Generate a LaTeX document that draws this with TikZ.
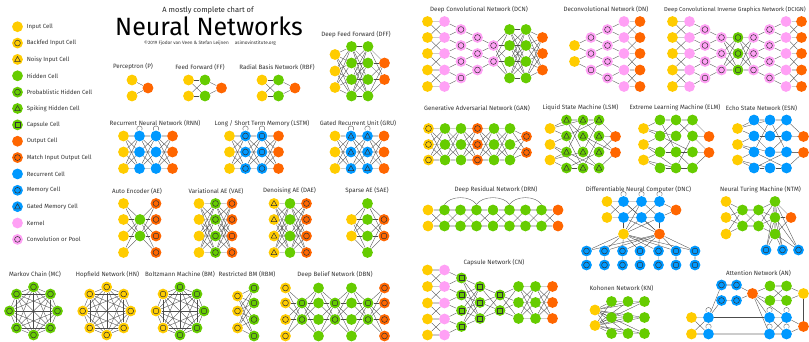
\documentclass[tikz,border=0pt]{standalone}
\usepackage{fontspec}
\setmainfont{Fira Sans}
\newfontfamily\thinfont{Fira Sans}
\usetikzlibrary{positioning, backgrounds}
\definecolor{CellYellow}{RGB}{255,204,0}
\definecolor{CellGreen}{RGB}{102,204,0}
\definecolor{CellOrange}{RGB}{255,102,0}
\definecolor{CellBlue}{RGB}{0,153,255}
\definecolor{CellPink}{RGB}{255,160,245}

% a column of cells: name, style, x, list of y
\newcommand\cells[4]{%
  \foreach \yy [count=\k] in {#4}{\node[#2] (#1-\k) at (#3,\yy) {};}}
% a row of cells: name, style, y, list of x
\newcommand\cellrow[4]{%
  \foreach \xx [count=\k] in {#4}{\node[#2] (#1-\k) at (\xx,#3) {};}}
\newcommand\fullconn[4]{%
  \begin{pgfonlayer}{background}
  \foreach \i in {1,...,#2}{\foreach \j in {1,...,#4}{\draw[conn] (#1-\i) -- (#3-\j);}}
  \end{pgfonlayer}}
\newcommand\rowconn[3]{%
  \begin{pgfonlayer}{background}
  \foreach \i in {1,...,#3}{\draw[rowline] (#1-\i) -- (#2-\i);}
  \end{pgfonlayer}}
\newcommand\meshconn[3]{%
  \rowconn{#1}{#2}{#3}%
  \begin{pgfonlayer}{background}
  \foreach \i in {1,...,#3}{\foreach \j in {1,...,#3}{%
    \ifnum\i=\j\else\draw[conn] (#1-\i) -- (#2-\j);\fi}}
  \end{pgfonlayer}}
\newcommand\nearconn[3]{%
  \rowconn{#1}{#2}{#3}%
  \begin{pgfonlayer}{background}
  \foreach \i in {2,...,#3}{\pgfmathtruncatemacro\ip{\i-1}%
    \draw[conn] (#1-\ip) -- (#2-\i); \draw[conn] (#1-\i) -- (#2-\ip);}
  \end{pgfonlayer}}
\newcommand\convconn[3]{%
  \begin{pgfonlayer}{background}
  \foreach \j in {1,...,#3}{\pgfmathtruncatemacro\jp{\j+1}%
    \draw[conn] (#1-\j) -- (#2-\j); \draw[conn] (#1-\jp) -- (#2-\j);}
  \end{pgfonlayer}}
\newcommand\deconvconn[3]{%
  \begin{pgfonlayer}{background}
  \foreach \j in {1,...,#3}{\pgfmathtruncatemacro\jp{\j+1}%
    \draw[conn] (#1-\j) -- (#2-\j); \draw[conn] (#1-\j) -- (#2-\jp);}
  \end{pgfonlayer}}
\newcommand\clique[2]{%
  \begin{pgfonlayer}{background}
  \foreach \i in {1,...,#2}{\foreach \j in {1,...,#2}{%
    \ifnum\i<\j\draw[conn] (#1-\i) -- (#1-\j);\fi}}
  \end{pgfonlayer}}
\newcommand\linkset[3][conn]{%
  \begin{pgfonlayer}{background}
  \foreach \p/\q in {#3}{\draw[#1] (#2-\p) -- (#2-\q);}
  \end{pgfonlayer}}
\newcommand\selfloop[1]{%
  \draw[conn] ([xshift=-2.2pt]#1.north) .. controls +(-2.5,-6) and +(2.5,-6) .. ([xshift=2.2pt]#1.north);}

\begin{document}
\begin{tikzpicture}[
    x=1pt, y=-1pt,
    cell/.style={circle,minimum size=10.8pt,inner sep=0pt},
    markline/.style={draw=black!80,line width=0.5pt},
    ring/.style={path picture={\draw[markline] (path picture bounding box.center) circle (2.9pt);}},
    tri/.style={path picture={\draw[markline,line join=round]
        ([yshift=3pt]path picture bounding box.center) -- ++(2.9pt,-5.2pt) -- ++(-5.8pt,0pt) -- cycle;}},
    sq/.style={path picture={\draw[markline]
        ([shift={(-2.6pt,-2.6pt)}]path picture bounding box.center) rectangle ++(5.2pt,5.2pt);}},
    inputcell/.style={cell,fill=CellYellow},
    backfed/.style={inputcell,ring},
    noisy/.style={inputcell,tri},
    hidden/.style={cell,fill=CellGreen},
    probhidden/.style={hidden,ring},
    spiking/.style={hidden,tri},
    capsule/.style={hidden,sq},
    outputcell/.style={cell,fill=CellOrange},
    matchout/.style={outputcell,ring},
    recurrent/.style={cell,fill=CellBlue},
    memory/.style={recurrent,ring},
    gatedmem/.style={recurrent,tri},
    kernel/.style={cell,fill=CellPink},
    convpool/.style={kernel,ring},
    conn/.style={draw=black!70,line width=0.35pt},
    rowline/.style={draw=black!20,line width=1.3pt},
    netlabel/.style={font=\fontsize{6.2}{7}\selectfont,text=black!80,inner sep=0pt},
    keylabel/.style={font=\fontsize{6}{7}\selectfont,text=black!80,inner sep=0pt}
  ]
  \begin{pgfonlayer}{background}
    \fill[white] (0,0) rectangle (809,341);
  \end{pgfonlayer}
  \useasboundingbox (0,0) rectangle (809,341);

  % title and legend
  \node[font=\fontsize{7.5}{8}\selectfont,text=black!85,inner sep=0pt] (subtitle) at (208,10) {A mostly complete chart of};
  \node[font=\thinfont\fontsize{25}{26}\selectfont,inner sep=0pt] (title) at (209,26) {Neural Networks};
  \node[font=\fontsize{4.7}{5}\selectfont,text=black!80,inner sep=0pt] (credit) at (210,43.5)
    {\textcopyright2019 Fjodor van Veen \& Stefan Leijnen\hspace{6pt}asimovinstitute.org};
  \foreach \st/\txt [count=\k] in {inputcell/Input Cell, backfed/Backfed Input Cell,
      noisy/Noisy Input Cell, hidden/Hidden Cell, probhidden/Probablistic Hidden Cell,
      spiking/Spiking Hidden Cell, capsule/Capsule Cell, outputcell/Output Cell,
      matchout/Match Input Output Cell, recurrent/Recurrent Cell, memory/Memory Cell,
      gatedmem/Gated Memory Cell, kernel/Kernel, convpool/Convolution or Pool}{
    \node[\st] (key-\k) at (17.5,{26.7+16.36*(\k-1)}) {};
    \node[keylabel,right=3.5pt of key-\k] (keytext-\k) {\txt};
  }

  % perceptron, feed forward, radial basis
  \node[netlabel] (p-lbl) at (133,67) {Perceptron (P)};
  \cells{p-a}{inputcell}{132}{80,96}
  \cells{p-b}{outputcell}{148}{88}
  \fullconn{p-a}{2}{p-b}{1}
  \node[netlabel] (ff-lbl) at (200,67) {Feed Forward (FF)};
  \cells{ff-a}{inputcell}{188.5}{80,96}
  \cells{ff-b}{hidden}{205}{80,96}
  \cells{ff-c}{outputcell}{221.5}{88}
  \fullconn{ff-a}{2}{ff-b}{2}
  \fullconn{ff-b}{2}{ff-c}{1}
  \node[netlabel] (rbf-lbl) at (277,67) {Radial Basis Network (RBF)};
  \cells{rbf-a}{inputcell}{262}{80,96}
  \cells{rbf-b}{hidden}{278.5}{80,96}
  \cells{rbf-c}{outputcell}{295}{88}
  \fullconn{rbf-a}{2}{rbf-b}{2}
  \fullconn{rbf-b}{2}{rbf-c}{1}

  % deep feed forward
  \node[netlabel] (dff-lbl) at (356,34.5) {Deep Feed Forward (DFF)};
  \cells{dff-a}{inputcell}{335}{54.5,71,87.5}
  \cells{dff-b}{hidden}{351.5}{46.5,63,79.5,96}
  \cells{dff-c}{hidden}{368}{46.5,63,79.5,96}
  \cells{dff-d}{outputcell}{384.5}{63,79.5}
  \fullconn{dff-a}{3}{dff-b}{4}
  \fullconn{dff-b}{4}{dff-c}{4}
  \fullconn{dff-c}{4}{dff-d}{2}

  % recurrent nets
  \node[netlabel] (rnn-lbl) at (155,123.5) {Recurrent Neural Network (RNN)};
  \node[netlabel] (lstm-lbl) at (262,123.5) {Long / Short Term Memory (LSTM)};
  \node[netlabel] (gru-lbl) at (358,123.5) {Gated Recurrent Unit (GRU)};
  \foreach \nm/\cx/\st in {rnn/123.5/recurrent, lstm/229.5/memory, gru/335/gatedmem}{
    \cells{\nm-a}{inputcell}{\cx}{136,152,168.5}
    \cells{\nm-b}{\st}{\cx+16}{136,152,168.5}
    \cells{\nm-c}{\st}{\cx+32.5}{136,152,168.5}
    \cells{\nm-d}{outputcell}{\cx+49}{136,152,168.5}
    \meshconn{\nm-a}{\nm-b}{3}
    \meshconn{\nm-b}{\nm-c}{3}
    \meshconn{\nm-c}{\nm-d}{3}
    \selfloop{\nm-b-1}
    \selfloop{\nm-c-1}
  }

  % auto encoders
  \node[netlabel] (ae-lbl) at (137,191) {Auto Encoder (AE)};
  \cells{ae-a}{inputcell}{123.5}{203.5,219.5,236,252.5}
  \cells{ae-b}{hidden}{140}{219.5,236}
  \cells{ae-c}{matchout}{156}{203.5,219.5,236,252.5}
  \fullconn{ae-a}{4}{ae-b}{2}
  \fullconn{ae-b}{2}{ae-c}{4}
  \node[netlabel] (vae-lbl) at (216,191) {Variational AE (VAE)};
  \cells{vae-a}{inputcell}{199}{203.5,219.5,236,252.5}
  \cells{vae-b}{probhidden}{215.5}{203.5,219.5,236,252.5}
  \cells{vae-c}{matchout}{232}{203.5,219.5,236,252.5}
  \meshconn{vae-a}{vae-b}{4}
  \meshconn{vae-b}{vae-c}{4}
  \node[netlabel] (dae-lbl) at (289.5,191) {Denoising AE (DAE)};
  \cells{dae-a}{noisy}{274}{203.5,219.5,236,252.5}
  \cells{dae-b}{hidden}{290}{203.5,219.5,236,252.5}
  \cells{dae-c}{matchout}{306.5}{203.5,219.5,236,252.5}
  \meshconn{dae-a}{dae-b}{4}
  \meshconn{dae-b}{dae-c}{4}
  \node[netlabel] (sae-lbl) at (367,191) {Sparse AE (SAE)};
  \cells{sae-a}{inputcell}{351.5}{219.5,236}
  \cells{sae-b}{hidden}{367.5}{203.5,219.5,236,252.5}
  \cells{sae-c}{matchout}{384}{219.5,236}
  \fullconn{sae-a}{2}{sae-b}{4}
  \fullconn{sae-b}{4}{sae-c}{2}

  % fully connected rings
  \node[netlabel] (mc-lbl) at (35,274.5) {Markov Chain (MC)};
  \node[netlabel] (hn-lbl) at (107.5,274.5) {Hopfield Network (HN)};
  \node[netlabel] (bm-lbl) at (180,274.5) {Boltzmann Machine (BM)};
  \foreach \k in {1,...,8}{
    \node[probhidden] (mc-\k) at ({33.5+24*cos(45*\k)},{311+24*sin(45*\k)}) {};
    \node[backfed] (hn-\k) at ({106.7+24*cos(45*\k)},{311+24*sin(45*\k)}) {};
  }
  \foreach \k/\st in {1/probhidden,2/probhidden,3/backfed,4/backfed,5/backfed,6/probhidden,7/probhidden,8/probhidden}{
    \node[\st] (bm-\k) at ({180+24*cos(45*\k)},{311+24*sin(45*\k)}) {};
  }
  \linkset[rowline]{mc}{2/6}
  \clique{mc}{8}
  \clique{hn}{8}
  \clique{bm}{8}

  % restricted BM and deep belief
  \node[netlabel] (rbm-lbl) at (247,274.5) {Restricted BM (RBM)};
  \cells{rbm-a}{backfed}{237.5}{296,311,328}
  \cells{rbm-b}{probhidden}{254}{288,303,319.5,336}
  \fullconn{rbm-a}{3}{rbm-b}{4}
  \node[netlabel] (dbn-lbl) at (335,274.5) {Deep Belief Network (DBN)};
  \cells{dbn-a}{backfed}{285.5}{288,303,319.5,336}
  \cells{dbn-b}{probhidden}{302}{303,319.5}
  \cells{dbn-c}{hidden}{318.5}{288,303,319.5,336}
  \cells{dbn-d}{probhidden}{335}{303,319.5}
  \cells{dbn-e}{hidden}{351.5}{288,303,319.5,336}
  \cells{dbn-f}{probhidden}{368}{303,319.5}
  \cells{dbn-g}{matchout}{384.5}{288,303,319.5,336}
  \fullconn{dbn-a}{4}{dbn-b}{2}
  \fullconn{dbn-b}{2}{dbn-c}{4}
  \fullconn{dbn-c}{4}{dbn-d}{2}
  \fullconn{dbn-d}{2}{dbn-e}{4}
  \fullconn{dbn-e}{4}{dbn-f}{2}
  \fullconn{dbn-f}{2}{dbn-g}{4}

  % convolutional nets
  \node[netlabel] (dcn-lbl) at (479,9.5) {Deep Convolutional Network (DCN)};
  \cells{dcn-a}{inputcell}{427.5}{21.5,37.5,53.5,70,86.5}
  \cells{dcn-b}{kernel}{444.5}{21.5,37.5,53.5,70,86.5}
  \cells{dcn-c}{convpool}{461}{29.5,45.5,61.5,78}
  \cells{dcn-d}{convpool}{477.5}{37.5,53.5,70}
  \cells{dcn-e}{convpool}{493.5}{45.5,61.5}
  \cells{dcn-f}{hidden}{509.5}{29.5,45.5,61.5,78}
  \cells{dcn-g}{hidden}{526}{29.5,45.5,61.5,78}
  \cells{dcn-h}{outputcell}{542.5}{37.5,53.5,70}
  \nearconn{dcn-a}{dcn-b}{5}
  \convconn{dcn-b}{dcn-c}{4}
  \convconn{dcn-c}{dcn-d}{3}
  \convconn{dcn-d}{dcn-e}{2}
  \fullconn{dcn-e}{2}{dcn-f}{4}
  \fullconn{dcn-f}{4}{dcn-g}{4}
  \fullconn{dcn-g}{4}{dcn-h}{3}

  \node[netlabel] (dn-lbl) at (606,9.5) {Deconvolutional Network (DN)};
  \cells{dn-a}{inputcell}{574.5}{45.5,61.5}
  \cells{dn-b}{convpool}{591}{37.5,53.5,70}
  \cells{dn-c}{convpool}{607.5}{29.5,45.5,61.5,78}
  \cells{dn-d}{kernel}{624}{21.5,37.5,53.5,70,86.5}
  \cells{dn-e}{outputcell}{640}{21.5,37.5,53.5,70,86.5}
  \deconvconn{dn-a}{dn-b}{2}
  \deconvconn{dn-b}{dn-c}{3}
  \deconvconn{dn-c}{dn-d}{4}
  \nearconn{dn-d}{dn-e}{5}

  \node[netlabel,font=\fontsize{5.8}{7}\selectfont] (dcign-lbl) at (735,9.5) {Deep Convolutional Inverse Graphics Network (DCIGN)};
  \cells{dcign-a}{inputcell}{672.5}{21.5,37.5,53.5,70,86.5}
  \cells{dcign-b}{kernel}{689.5}{21.5,37.5,53.5,70,86.5}
  \cells{dcign-c}{convpool}{705}{29.5,45.5,61.5,78}
  \cells{dcign-d}{convpool}{721.5}{37.5,53.5,70}
  \cells{dcign-e}{probhidden}{738}{37.5,53.5,70}
  \cells{dcign-f}{convpool}{753.5}{37.5,53.5,70}
  \cells{dcign-g}{convpool}{769.5}{29.5,45.5,61.5,78}
  \cells{dcign-h}{kernel}{786}{21.5,37.5,53.5,70,86.5}
  \cells{dcign-i}{outputcell}{801.5}{21.5,37.5,53.5,70,86.5}
  \nearconn{dcign-a}{dcign-b}{5}
  \convconn{dcign-b}{dcign-c}{4}
  \convconn{dcign-c}{dcign-d}{3}
  \meshconn{dcign-d}{dcign-e}{3}
  \meshconn{dcign-e}{dcign-f}{3}
  \deconvconn{dcign-f}{dcign-g}{3}
  \deconvconn{dcign-g}{dcign-h}{4}
  \nearconn{dcign-h}{dcign-i}{5}

  % generative adversarial
  \node[netlabel] (gan-lbl) at (477,108) {Generative Adversarial Network (GAN)};
  \cells{gan-a}{backfed}{428.5}{128.5,144.5,160}
  \cells{gan-b}{hidden}{445}{128.5,144.5,160}
  \cells{gan-c}{hidden}{461}{128.5,144.5,160}
  \cells{gan-d}{matchout}{477.5}{128.5,144.5,160}
  \cells{gan-e}{hidden}{494}{128.5,144.5,160}
  \cells{gan-f}{hidden}{510}{128.5,144.5,160}
  \cells{gan-g}{matchout}{526.5}{136.5,152.5}
  \meshconn{gan-a}{gan-b}{3}
  \meshconn{gan-b}{gan-c}{3}
  \meshconn{gan-c}{gan-d}{3}
  \meshconn{gan-d}{gan-e}{3}
  \meshconn{gan-e}{gan-f}{3}
  \fullconn{gan-f}{3}{gan-g}{2}

  % reservoir nets
  \node[netlabel] (lsm-lbl) at (580.5,108) {Liquid State Machine (LSM)};
  \cells{lsm-a}{inputcell}{550}{128.5,144.5,160}
  \cells{lsm-b}{spiking}{566.5}{120,136,152,168}
  \cells{lsm-c}{spiking}{583}{120,136,152,168}
  \cells{lsm-d}{spiking}{599}{120,136,152,168}
  \cells{lsm-e}{outputcell}{615.5}{136.5,152.5}
  \linkset[rowline]{lsm}{b-1/c-1, c-1/d-1}
  \linkset{lsm}{a-1/b-1, a-1/b-2, a-1/c-1, a-2/b-2, a-2/b-3, a-2/c-4, a-3/b-4, a-3/c-3,
    a-3/b-3, b-1/c-2, b-1/c-3, b-2/c-4, b-2/d-1, b-3/c-1, b-3/d-4, b-4/c-4, b-4/d-3,
    c-1/d-2, c-2/d-3, c-3/d-1, c-3/d-4, c-4/d-2, d-1/e-1, d-2/e-1, d-2/e-2, d-3/e-1,
    d-4/e-2, c-2/e-2}
  \node[netlabel] (elm-lbl) at (675,108) {Extreme Learning Machine (ELM)};
  \cells{elm-a}{inputcell}{643.5}{128.5,144.5,160}
  \cells{elm-b}{hidden}{660}{120,136,152,168}
  \cells{elm-c}{hidden}{676}{120,136,152,168}
  \cells{elm-d}{hidden}{692.5}{120,136,152,168}
  \cells{elm-e}{outputcell}{709}{136.5,152.5}
  \linkset[rowline]{elm}{b-1/c-1, c-1/d-1}
  \linkset{elm}{a-1/b-1, a-1/b-2, a-1/c-2, a-2/b-3, a-2/c-4, a-2/b-2, a-3/b-3, a-3/c-4,
    a-3/b-4, b-1/c-3, b-2/c-1, b-2/d-3, b-3/c-2, b-4/d-4, b-3/d-3, c-1/d-2, c-2/d-1,
    c-3/d-3, c-3/d-4, c-4/d-2, d-1/e-1, d-2/e-1, d-2/e-2, d-3/e-2, d-4/e-2}
  \node[netlabel] (esn-lbl) at (761.5,108) {Echo State Network (ESN)};
  \cells{esn-a}{inputcell}{737.5}{128.5,144.5,160}
  \cells{esn-b}{recurrent}{754}{120,136,152,168}
  \cells{esn-c}{recurrent}{770}{120,136,152,168}
  \cells{esn-d}{recurrent}{786.5}{120,136,152,168}
  \cells{esn-e}{outputcell}{803.5}{136.5,152.5}
  \linkset[rowline]{esn}{b-1/c-1, c-1/d-1}
  \linkset{esn}{a-1/b-1, a-1/b-2, a-1/c-1, a-2/b-2, a-2/b-3, a-2/c-3, a-3/b-4, a-3/c-4,
    a-3/b-3, b-1/c-2, b-2/c-3, b-2/d-2, b-3/c-1, b-3/d-4, b-4/c-4, b-4/d-3, c-1/d-3,
    c-2/d-1, c-3/d-2, c-4/d-4, d-1/e-1, d-2/e-1, d-3/e-2, d-4/e-2, c-3/e-2}

  % deep residual
  \node[netlabel] (drn-lbl) at (496,189.5) {Deep Residual Network (DRN)};
  \foreach \nm/\st/\xx in {a/inputcell/428, b/hidden/444.5, c/hidden/460.5, d/hidden/476.5,
      e/hidden/493, f/hidden/509.5, g/hidden/525.5, h/hidden/541.5, i/outputcell/558}{
    \cells{drn-\nm}{\st}{\xx}{210,226}
  }
  \foreach \p/\q in {a/b,b/c,c/d,d/e,e/f,f/g,g/h,h/i}{\meshconn{drn-\p}{drn-\q}{2}}
  \foreach \p/\q in {b/d,d/f,f/h}{
    \draw[conn] (drn-\p-1.north) .. controls +(6,-9) and +(-6,-9) .. (drn-\q-1.north);
  }

  % differentiable neural computer
  \node[netlabel] (dnc-lbl) at (638.5,189.5) {Differentiable Neural Computer (DNC)};
  \cells{dnc-a}{inputcell}{607}{201.5,217.5}
  \cells{dnc-b}{recurrent}{623.5}{201.5,217.5}
  \cells{dnc-c}{recurrent}{641.5}{201.5,217.5}
  \cells{dnc-d}{recurrent}{659.5}{201.5,217.5}
  \cells{dnc-e}{outputcell}{676}{210}
  \cells{dnc-f}{inputcell}{623.5}{234}
  \cells{dnc-g}{outputcell}{659.5}{234}
  \cellrow{dnc-m}{memory}{251}{586.5,604.5,622.5,640,658.5,676,695}
  \cellrow{dnc-n}{memory}{265}{586.5,604.5,622.5,640,658.5,676,695}
  \meshconn{dnc-a}{dnc-b}{2}
  \meshconn{dnc-b}{dnc-c}{2}
  \meshconn{dnc-c}{dnc-d}{2}
  \fullconn{dnc-d}{2}{dnc-e}{1}
  \linkset{dnc}{f-1/b-2, f-1/c-2, f-1/d-2, f-1/c-1, g-1/b-2, g-1/c-2, g-1/d-2, g-1/b-1}
  \fullconn{dnc-f}{1}{dnc-m}{7}
  \fullconn{dnc-g}{1}{dnc-m}{7}
  \rowconn{dnc-m}{dnc-n}{7}
  \foreach \c in {b,c,d}{\selfloop{dnc-\c-1}}

  % neural turing machine
  \node[netlabel] (ntm-lbl) at (760.5,189.5) {Neural Turing Machine (NTM)};
  \cells{ntm-a}{inputcell}{726}{201.5,217.5,234}
  \cells{ntm-b}{hidden}{742.5}{210,226}
  \cells{ntm-c}{hidden}{758.5}{210,226}
  \cells{ntm-d}{hidden}{775}{201.5,217.5,234}
  \cells{ntm-e}{outputcell}{791}{217.5}
  \cellrow{ntm-m}{memory}{250}{766,782.5,798.5}
  \fullconn{ntm-a}{3}{ntm-b}{2}
  \meshconn{ntm-b}{ntm-c}{2}
  \fullconn{ntm-c}{2}{ntm-d}{3}
  \fullconn{ntm-d}{3}{ntm-e}{1}
  \fullconn{ntm-d}{3}{ntm-m}{3}
  \linkset[rowline]{ntm}{d-1/d-2, d-2/d-3}

  % capsule net
  \node[netlabel] (cn-lbl) at (494,263) {Capsule Network (CN)};
  \cells{cn-a}{inputcell}{427.5}{270,286.5,303,319,335}
  \cells{cn-b}{kernel}{444.5}{270,286.5,303,319,335}
  \cells{cn-c}{capsule}{461.5}{278,295,310.5,326.5}
  \cells{cn-d}{capsule}{480}{286.5,302.5,318.5}
  \cells{cn-e}{capsule}{500}{295,310.5}
  \cells{cn-f}{hidden}{518.5}{286.5,302.5,318.5}
  \cells{cn-g}{hidden}{535.5}{286.5,302.5,318.5}
  \cells{cn-h}{outputcell}{552.5}{286.5,302.5,318.5}
  \nearconn{cn-a}{cn-b}{5}
  \convconn{cn-b}{cn-c}{4}
  \fullconn{cn-c}{4}{cn-d}{3}
  \fullconn{cn-d}{3}{cn-e}{2}
  \fullconn{cn-e}{2}{cn-f}{3}
  \meshconn{cn-f}{cn-g}{3}
  \meshconn{cn-g}{cn-h}{3}

  % kohonen
  \node[netlabel] (kn-lbl) at (621.5,288.5) {Kohonen Network (KN)};
  \cells{kn-a}{inputcell}{595}{310,325.5}
  \cells{kn-b}{hidden}{611.5}{301.5,317.5,333.5}
  \cells{kn-c}{hidden}{628}{301.5,317.5,333.5}
  \cells{kn-d}{hidden}{644.5}{301.5,317.5,333.5}
  \rowconn{kn-b}{kn-c}{3}
  \rowconn{kn-c}{kn-d}{3}
  \fullconn{kn-a}{2}{kn-b}{3}
  \fullconn{kn-a}{2}{kn-c}{3}
  \fullconn{kn-a}{2}{kn-d}{3}

  % attention
  \node[netlabel] (an-lbl) at (758.5,273) {Attention Network (AN)};
  \cells{an-m}{memory}{721.5}{285,300.5}
  \cells{an-n}{memory}{736.5}{285,300.5}
  \cells{an-o}{outputcell}{752.5}{293.5}
  \cells{an-h}{hidden}{770}{286,300.5}
  \cells{an-k}{hidden}{786.5}{286,300.5}
  \cells{an-y}{inputcell}{803.5}{293.5}
  \cells{an-a}{inputcell}{691.5}{317.5,334}
  \cells{an-b}{recurrent}{708.5}{317.5,334}
  \cells{an-c}{recurrent}{769.5}{317.5,334}
  \cells{an-d}{recurrent}{786.5}{317.5,334}
  \cells{an-e}{outputcell}{803.5}{326.5}
  \rowconn{an-m}{an-n}{2}
  \fullconn{an-n}{2}{an-o}{1}
  \fullconn{an-o}{1}{an-h}{2}
  \meshconn{an-h}{an-k}{2}
  \fullconn{an-k}{2}{an-y}{1}
  \meshconn{an-a}{an-b}{2}
  \linkset{an}{b-1/c-1, o-1/c-1, o-1/c-2, o-1/d-1, b-1/m-1, b-1/m-2, y-1/e-1}
  \linkset[rowline]{an}{b-2/c-2}
  \meshconn{an-c}{an-d}{2}
  \fullconn{an-d}{2}{an-e}{1}
  \foreach \c in {b,c,d}{\selfloop{an-\c-1}\selfloop{an-\c-2}}
\end{tikzpicture}
\end{document}
